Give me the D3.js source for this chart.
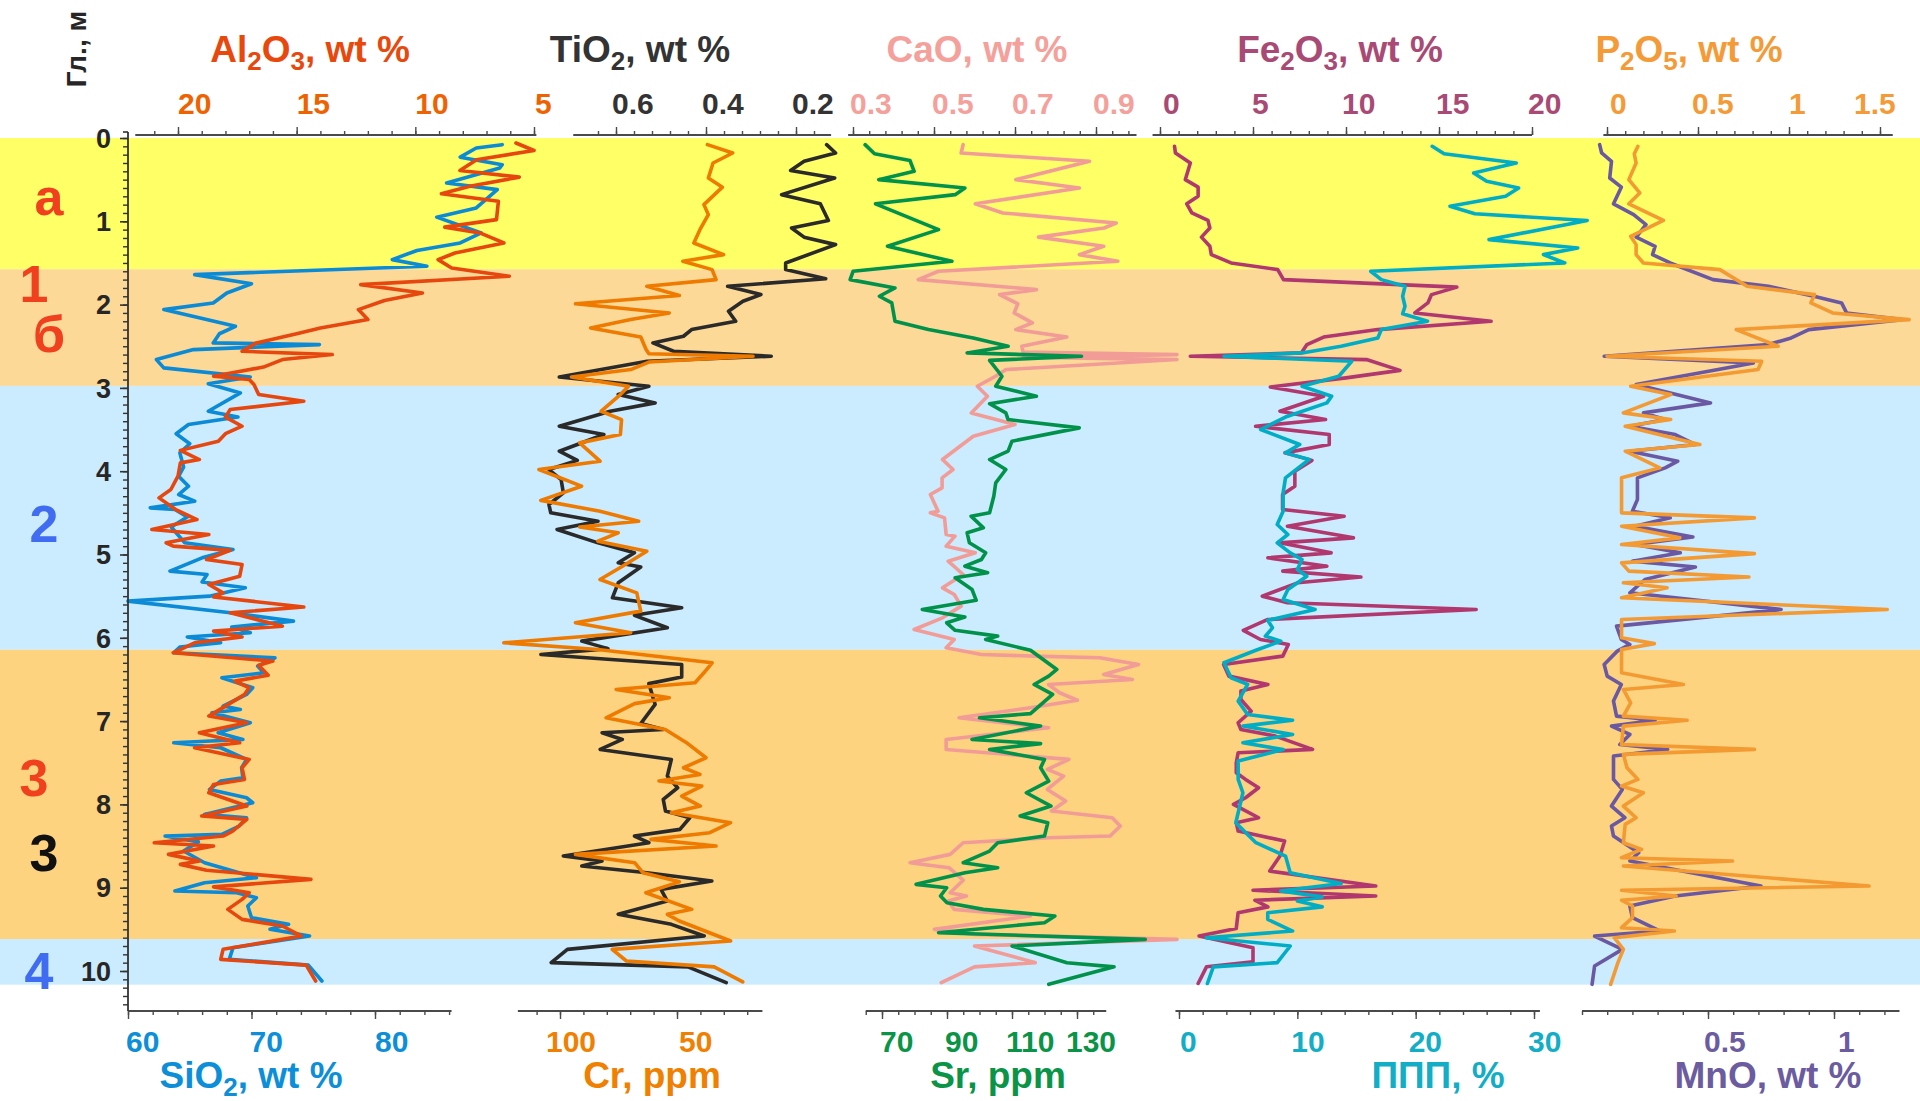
<!DOCTYPE html>
<html>
<head>
<meta charset="utf-8">
<script src="https://cdn.jsdelivr.net/npm/d3@7"></script>
<style>
  body { margin: 0; background: #fff; }
  svg { display: block; font-family: "Liberation Sans", Arial, sans-serif; font-weight: bold; }
</style>
</head>
<body>
<svg id="chart" width="1920" height="1101"></svg>
<script>
// ---- Section zones (depth, m) ----
const zoneBounds = [0, 1.576, 2.976, 6.144, 9.616, 10.164];
const zoneNames = ["а", "б", "2", "3", "4"];

// ---- Layer marks on the left ----
const layerText = ["а", "1", "б", "2", "3", "3", "4"];
const layerDepth = [0.70, 1.75, 2.34, 4.63, 7.68, 8.58, 9.99];

// ---- Depth ticks ----
const depthLabels = [0, 1, 2, 3, 4, 5, 6, 7, 8, 9, 10];

// ---- Series: [depth m, value] ----
const sio2 = [[0.08,90.3],[0.12,88.2],[0.23,86.9],[0.32,90.3],[0.36,90.1],[0.54,85.8],[0.62,89.9],[0.84,88.2],[0.95,85.0],[1.14,88.6],[1.26,86.9],[1.35,83.4],[1.46,81.4],[1.54,84.2],[1.64,65.4],[1.75,70.0],[1.86,68.0],[1.98,66.9],[2.06,62.9],[2.26,68.7],[2.35,67.4],[2.46,66.9],[2.48,75.5],[2.54,65.3],[2.66,62.3],[2.76,62.9],[2.87,69.9],[2.95,66.5],[3.06,69.1],[3.28,66.5],[3.35,68.9],[3.44,64.9],[3.55,63.9],[3.67,65.0],[3.78,64.2],[3.95,64.5],[4.06,64.1],[4.18,64.9],[4.28,64.1],[4.36,65.4],[4.44,61.8],[4.46,63.8],[4.55,64.8],[4.67,63.5],[4.86,64.6],[4.94,68.5],[5.04,66.0],[5.2,63.4],[5.24,66.4],[5.33,66.0],[5.4,69.5],[5.5,66.6],[5.56,60.0],[5.7,68.3],[5.8,73.4],[5.87,68.4],[5.94,69.9],[5.99,64.8],[6.06,67.5],[6.11,64.2],[6.18,63.7],[6.24,71.9],[6.34,70.5],[6.42,71.0],[6.48,67.6],[6.6,70.1],[6.68,69.6],[6.82,67.7],[6.86,69.1],[6.9,66.8],[7.02,69.9],[7.14,67.3],[7.22,69.3],[7.26,63.7],[7.32,67.5],[7.46,69.6],[7.56,69.2],[7.68,69.3],[7.72,67.5],[7.82,66.6],[7.92,69.6],[7.98,70.1],[8.12,66.2],[8.16,69.6],[8.26,69.0],[8.36,67.6],[8.38,63.0],[8.45,65.7],[8.56,64.5],[8.7,66.2],[8.88,70.4],[8.94,66.2],[9.04,63.8],[9.06,68.8],[9.12,70.4],[9.22,69.7],[9.36,70.0],[9.44,73.0],[9.5,71.5],[9.58,74.7],[9.72,68.5],[9.86,68.2],[9.93,74.6],[10.12,75.7]];

const al2o3 = [[0.06,5.76],[0.15,5.0],[0.26,7.42],[0.39,8.12],[0.47,5.62],[0.58,7.7],[0.67,8.9],[0.76,6.5],[0.98,6.58],[1.07,8.76],[1.14,7.28],[1.26,6.27],[1.38,8.33],[1.46,9.04],[1.56,8.47],[1.66,6.04],[1.76,12.3],[1.86,9.7],[1.95,11.3],[2.06,12.4],[2.18,12.0],[2.28,14.0],[2.35,15.0],[2.46,16.7],[2.56,17.3],[2.6,13.5],[2.66,15.6],[2.75,16.4],[2.86,18.5],[2.9,17.0],[2.96,16.8],[3.08,16.6],[3.16,14.7],[3.26,17.8],[3.35,18.0],[3.46,17.3],[3.55,18.0],[3.64,18.3],[3.75,19.9],[3.86,19.1],[3.9,19.9],[4.06,20.0],[4.22,20.3],[4.32,20.8],[4.46,20.1],[4.58,19.2],[4.7,21.1],[4.76,18.7],[4.86,20.5],[4.9,20.2],[4.95,17.8],[5.06,18.8],[5.12,17.3],[5.26,17.4],[5.36,18.7],[5.46,18.1],[5.51,18.5],[5.63,14.7],[5.7,17.8],[5.86,15.6],[5.92,18.5],[5.99,17.3],[6.06,19.3],[6.18,20.2],[6.28,16.0],[6.33,16.6],[6.45,16.2],[6.52,17.6],[6.6,17.0],[6.68,17.2],[6.82,18.0],[6.94,18.7],[7.02,17.1],[7.14,19.1],[7.26,17.4],[7.32,19.3],[7.46,17.0],[7.56,17.3],[7.7,17.2],[7.76,18.5],[7.86,18.7],[8.02,17.1],[8.14,19.0],[8.18,17.1],[8.32,17.7],[8.38,18.1],[8.46,21.0],[8.5,18.5],[8.6,20.4],[8.68,19.1],[8.72,19.9],[8.79,18.8],[8.9,14.4],[8.99,18.5],[9.06,17.0],[9.14,17.3],[9.26,17.9],[9.38,17.3],[9.46,15.6],[9.58,14.8],[9.74,18.1],[9.86,18.2],[9.93,14.6],[10.12,14.2]];

const tio2 = [[0.08,0.132],[0.18,0.112],[0.28,0.182],[0.39,0.212],[0.48,0.114],[0.68,0.232],[0.79,0.146],[0.99,0.128],[1.08,0.21],[1.19,0.182],[1.28,0.112],[1.5,0.223],[1.58,0.223],[1.69,0.134],[1.78,0.352],[1.88,0.278],[1.96,0.318],[2.08,0.35],[2.2,0.334],[2.3,0.432],[2.38,0.45],[2.46,0.518],[2.56,0.472],[2.62,0.255],[2.68,0.531],[2.87,0.726],[2.98,0.527],[3.08,0.595],[3.18,0.513],[3.28,0.613],[3.46,0.726],[3.56,0.627],[3.68,0.686],[3.76,0.726],[3.87,0.686],[3.98,0.749],[4.1,0.722],[4.26,0.717],[4.4,0.749],[4.5,0.745],[4.6,0.64],[4.7,0.731],[4.86,0.64],[4.98,0.559],[5.1,0.595],[5.15,0.545],[5.34,0.595],[5.52,0.608],[5.64,0.454],[5.73,0.559],[5.88,0.486],[6.04,0.676],[6.13,0.618],[6.2,0.767],[6.32,0.454],[6.47,0.454],[6.55,0.527],[6.8,0.513],[7.03,0.545],[7.1,0.495],[7.14,0.631],[7.22,0.586],[7.34,0.635],[7.46,0.477],[7.66,0.486],[7.8,0.463],[7.94,0.495],[8.08,0.49],[8.16,0.436],[8.3,0.458],[8.38,0.559],[8.46,0.527],[8.62,0.717],[8.68,0.631],[8.74,0.676],[8.82,0.531],[8.92,0.387],[9.02,0.5],[9.16,0.486],[9.32,0.595],[9.44,0.477],[9.58,0.404],[9.74,0.708],[9.9,0.744],[9.95,0.44],[10.14,0.355]];

const cr = [[0.08,37],[0.18,26.2],[0.3,34.6],[0.48,36.6],[0.59,30.6],[0.8,38.5],[0.92,36.6],[1.1,40.2],[1.26,42.8],[1.4,30.1],[1.48,47.5],[1.58,35],[1.7,33.3],[1.78,62.9],[1.89,49],[1.99,93.4],[2.1,53.3],[2.18,69.8],[2.28,86.9],[2.39,65.5],[2.54,63.2],[2.59,62],[2.62,17.5],[2.69,62],[2.78,69.8],[2.87,95.1],[2.98,70.7],[3.08,74.2],[3.28,82.4],[3.38,73.7],[3.56,74.2],[3.66,91.6],[3.88,82.9],[3.98,109],[4.18,90.8],[4.35,108.2],[4.48,82.9],[4.6,66.4],[4.67,91.6],[4.74,75.1],[4.84,83.8],[4.96,62.9],[5.14,73.3],[5.3,82.9],[5.46,67.2],[5.68,65.5],[5.82,93.4],[5.94,69.8],[6.06,124],[6.14,83.8],[6.3,35],[6.42,38.5],[6.54,42.3],[6.62,76],[6.72,53.3],[6.79,68.1],[6.96,80.3],[7.1,55],[7.27,45.4],[7.44,37.6],[7.56,47.2],[7.64,40.2],[7.72,57.7],[7.78,39.4],[7.9,48],[8.02,40],[8.1,52.4],[8.22,27.1],[8.34,36],[8.42,61.1],[8.5,33.3],[8.6,93.4],[8.7,68.1],[8.82,64.6],[8.93,49],[9.06,63.3],[9.26,43.7],[9.32,54.1],[9.4,49],[9.64,27.1],[9.74,77.7],[9.88,71.6],[9.95,34.1],[10.13,21.9]];

const cao = [[0.08,0.572],[0.18,0.567],[0.28,0.884],[0.5,0.702],[0.6,0.859],[0.79,0.602],[0.9,0.67],[1.02,0.95],[1.08,0.92],[1.19,0.758],[1.3,0.919],[1.4,0.859],[1.48,0.954],[1.6,0.511],[1.7,0.461],[1.82,0.753],[1.88,0.662],[1.99,0.707],[2.1,0.698],[2.22,0.743],[2.3,0.702],[2.39,0.828],[2.5,0.717],[2.57,0.72],[2.6,1.1],[2.63,0.72],[2.66,1.1],[2.78,0.678],[2.86,0.652],[2.98,0.607],[3.1,0.632],[3.3,0.592],[3.44,0.70],[3.58,0.597],[3.86,0.521],[3.98,0.547],[4.08,0.52],[4.2,0.52],[4.28,0.491],[4.48,0.51],[4.5,0.491],[4.56,0.526],[4.76,0.53],[4.78,0.552],[4.9,0.53],[4.98,0.602],[5.08,0.535],[5.24,0.572],[5.4,0.521],[5.48,0.55],[5.62,0.567],[5.76,0.521],[5.9,0.451],[6.02,0.55],[6.12,0.53],[6.2,0.617],[6.22,0.748],[6.24,0.909],[6.32,1.005],[6.44,0.919],[6.5,0.99],[6.56,0.783],[6.66,0.81],[6.75,0.854],[6.84,0.738],[6.96,0.562],[7.08,0.783],[7.22,0.53],[7.34,0.53],[7.46,0.833],[7.58,0.78],[7.66,0.82],[7.82,0.78],[7.96,0.825],[8.08,0.79],[8.16,0.94],[8.26,0.96],[8.38,0.935],[8.4,0.783],[8.46,0.572],[8.6,0.54],[8.7,0.441],[8.76,0.537],[8.91,0.572],[9.06,0.54],[9.1,0.58],[9.16,0.535],[9.26,0.55],[9.34,0.738],[9.5,0.501],[9.56,0.6],[9.62,1.1],[9.7,0.6],[9.9,0.75],[9.95,0.6],[10.14,0.518]];

const sr = [[0.08,64.8],[0.19,67.7],[0.27,78.6],[0.4,79.9],[0.5,69],[0.6,95.5],[0.68,92.5],[0.79,68],[1.1,87.4],[1.3,71.7],[1.48,91.5],[1.6,61.1],[1.7,60.2],[1.8,74],[1.9,69.2],[1.98,73],[2.2,74],[2.3,84.3],[2.4,98.1],[2.5,108.8],[2.58,96.2],[2.62,131.4],[2.67,103.1],[2.86,106.9],[2.98,105],[3.1,117.5],[3.19,103.1],[3.3,108.1],[3.38,108.8],[3.48,130.7],[3.64,110],[3.76,108.8],[3.86,103.1],[3.98,108.1],[4.14,105],[4.3,104.4],[4.5,103.1],[4.54,97.4],[4.68,101.2],[4.74,96.2],[4.86,96.9],[4.98,101.9],[5.06,100.6],[5.14,95.5],[5.22,102.5],[5.28,92.5],[5.42,97.7],[5.55,99],[5.66,82.4],[5.75,95.5],[5.82,89.9],[5.91,92.5],[5.98,105.6],[6.02,101.9],[6.15,115.7],[6.38,123.8],[6.46,121.3],[6.56,116.8],[6.68,122.5],[6.91,115.7],[6.96,100],[7.06,118.8],[7.22,97.7],[7.27,118.8],[7.34,103.1],[7.46,120],[7.56,118.8],[7.72,121.3],[7.86,114.4],[8.02,122],[8.14,112.5],[8.22,121],[8.38,120],[8.46,105.6],[8.56,103.1],[8.7,95],[8.76,105.6],[8.82,95.5],[8.96,80.5],[9.0,89.9],[9.1,88],[9.18,90],[9.26,101.2],[9.34,123.2],[9.42,120],[9.54,87.4],[9.62,151],[9.7,110],[9.9,126.9],[9.95,141.4],[10.16,121.3]];

const fe2o3 = [[0.1,0.78],[0.18,0.83],[0.3,1.63],[0.5,1.36],[0.59,2.05],[0.7,2.05],[0.79,1.44],[0.9,1.71],[0.99,2.58],[1.08,2.68],[1.19,2.23],[1.3,2.68],[1.4,2.76],[1.5,3.82],[1.58,6.33],[1.7,6.64],[1.79,15.96],[1.88,14.6],[1.98,14.4],[2.1,13.7],[2.2,17.8],[2.3,11.7],[2.39,8.8],[2.48,7.9],[2.58,7.6],[2.62,1.63],[2.66,11.1],[2.79,12.9],[2.88,10],[2.99,5.93],[3.1,8.8],[3.28,6.45],[3.38,8.9],[3.46,5.14],[3.56,9.1],[3.68,9.1],[3.78,6.72],[3.87,8.17],[4.0,7.25],[4.18,7.25],[4.28,6.59],[4.46,6.59],[4.54,9.9],[4.66,6.85],[4.8,10.4],[4.86,6.45],[4.98,9.2],[5.04,5.8],[5.14,8.97],[5.2,6.6],[5.27,10.8],[5.34,7.4],[5.5,5.5],[5.58,6.85],[5.66,17],[5.78,5.8],[5.91,4.48],[6.02,5.4],[6.08,6.9],[6.22,6.6],[6.32,3.42],[6.46,3.7],[6.56,5.8],[6.64,4.35],[6.74,4.35],[6.88,4.9],[7.02,4.2],[7.1,4.35],[7.18,6.2],[7.34,8.2],[7.38,4.2],[7.5,4.1],[7.62,4.1],[7.7,4.6],[7.8,5.3],[7.92,4.6],[8.0,3.95],[8.16,5.3],[8.22,4.1],[8.32,4.2],[8.44,6.7],[8.62,6.45],[8.8,5.9],[8.98,11.6],[9.03,5.0],[9.1,11.6],[9.15,5.1],[9.23,5.8],[9.3,4.2],[9.49,4.1],[9.58,2.1],[9.72,5.0],[9.89,5.0],[9.95,2.5],[10.15,2.05]];

const loi = [[0.1,21.4],[0.19,22.4],[0.3,28.5],[0.42,24.9],[0.52,26],[0.6,28.7],[0.7,27.6],[0.82,22.9],[0.91,25],[0.99,34.5],[1.22,26.2],[1.32,33.7],[1.4,30.8],[1.5,32.6],[1.6,16.2],[1.7,17.1],[1.78,19.1],[1.9,18.9],[2.02,19.1],[2.11,18.9],[2.2,21],[2.3,17.1],[2.4,16.8],[2.5,13.7],[2.58,10.4],[2.62,3.8],[2.68,14.6],[2.86,13.5],[2.98,10.4],[3.1,12.9],[3.18,12.5],[3.35,9],[3.5,6.9],[3.68,10.2],[3.78,9],[3.86,11],[4.08,9],[4.26,8.8],[4.48,8.8],[4.64,8.3],[4.76,9.2],[4.86,8.3],[4.98,9.4],[5.06,10.4],[5.18,10],[5.26,10.8],[5.42,9.2],[5.54,8.8],[5.66,11.5],[5.79,7.5],[5.88,7.9],[5.98,7.3],[6.04,8.6],[6.15,6.5],[6.3,3.8],[6.48,4.4],[6.56,5.8],[6.76,5],[6.92,5.8],[6.99,9.6],[7.06,5.4],[7.16,9.6],[7.26,5.4],[7.34,8.8],[7.48,5],[7.7,5],[7.86,5.4],[8.22,4.8],[8.46,6.5],[8.62,9],[8.82,9.4],[8.95,13.7],[9.04,8.6],[9.11,12.1],[9.16,10],[9.23,12.1],[9.3,7.5],[9.38,7.5],[9.52,9.6],[9.6,2.3],[9.7,9.4],[9.9,8.3],[9.95,2.9],[10.15,2.4]];

const p2o5 = [[0.1,0.17],[0.19,0.15],[0.3,0.16],[0.5,0.12],[0.66,0.18],[0.79,0.12],[0.99,0.31],[1.18,0.13],[1.28,0.16],[1.4,0.16],[1.5,0.2],[1.58,0.62],[1.78,0.77],[1.88,1.14],[1.98,1.12],[2.1,1.24],[2.18,1.66],[2.3,0.71],[2.5,0.94],[2.62,0.0],[2.68,0.85],[2.78,0.83],[2.98,0.13],[3.08,0.35],[3.3,0.09],[3.38,0.35],[3.46,0.1],[3.68,0.51],[3.76,0.1],[3.96,0.29],[4.08,0.08],[4.5,0.08],[4.56,0.81],[4.66,0.08],[4.8,0.4],[4.88,0.08],[4.99,0.81],[5.1,0.08],[5.2,0.12],[5.27,0.78],[5.34,0.09],[5.4,0.33],[5.52,0.08],[5.66,1.54],[5.78,0.08],[6.0,0.08],[6.07,0.26],[6.14,0.08],[6.42,0.08],[6.56,0.42],[6.62,0.09],[6.78,0.13],[6.94,0.09],[6.99,0.44],[7.06,0.09],[7.28,0.08],[7.34,0.81],[7.4,0.09],[7.56,0.11],[7.7,0.17],[7.78,0.08],[7.86,0.2],[8.02,0.09],[8.16,0.16],[8.24,0.1],[8.46,0.09],[8.54,0.19],[8.64,0.08],[8.68,0.69],[8.74,0.09],[8.98,1.44],[9.03,0.08],[9.1,0.38],[9.15,0.08],[9.22,0.14],[9.36,0.14],[9.48,0.08],[9.52,0.37],[9.6,0.04],[9.74,0.09],[9.9,0.06],[10.16,0.02]];

const mno = [[0.08,0.07],[0.18,0.078],[0.28,0.117],[0.48,0.11],[0.59,0.156],[0.79,0.125],[0.92,0.205],[1.04,0.254],[1.19,0.215],[1.3,0.29],[1.4,0.28],[1.5,0.35],[1.7,0.52],[1.78,0.74],[1.9,0.92],[1.98,1.03],[2.1,1.05],[2.18,1.27],[2.3,0.9],[2.4,0.83],[2.48,0.74],[2.62,0.088],[2.7,0.68],[2.78,0.54],[2.96,0.215],[3.18,0.51],[3.3,0.244],[3.38,0.33],[3.46,0.19],[3.56,0.37],[3.68,0.45],[3.76,0.19],[3.88,0.38],[3.96,0.33],[4.08,0.22],[4.34,0.22],[4.48,0.2],[4.56,0.35],[4.66,0.21],[4.79,0.44],[4.88,0.21],[4.98,0.39],[5.08,0.2],[5.15,0.45],[5.3,0.25],[5.46,0.19],[5.66,0.79],[5.86,0.137],[6.02,0.156],[6.08,0.19],[6.16,0.14],[6.32,0.088],[6.46,0.1],[6.56,0.156],[6.76,0.125],[6.94,0.137],[6.99,0.29],[7.06,0.117],[7.16,0.19],[7.28,0.15],[7.34,0.34],[7.42,0.125],[7.7,0.125],[7.82,0.16],[8.02,0.117],[8.16,0.17],[8.26,0.117],[8.38,0.125],[8.58,0.225],[8.68,0.19],[8.98,0.71],[9.1,0.37],[9.22,0.19],[9.36,0.2],[9.52,0.31],[9.58,0.05],[9.74,0.16],[9.94,0.05],[10.16,0.04]];

// ---- Axis tick labels ----
const al2o3Ticks = [20, 15, 10, 5];
const tio2Ticks = [0.6, 0.4, 0.2];
const caoTicks = [0.3, 0.5, 0.7, 0.9];
const fe2o3Ticks = [0, 5, 10, 15, 20];
const p2o5Ticks = [0, 0.5, 1, 1.5];
const sio2Ticks = [60, 70, 80];
const crTicks = [100, 50];
const srTicks = [70, 90, 110, 130];
const loiTicks = [0, 10, 20, 30];
const mnoTicks = [0.5, 1];

// ---------------------------------------------------------------
const svg = d3.select("#chart");
const AXIS_TOP = 135, AXIS_BOTTOM = 1011, DEPTH_X = 128;
const y = d3.scaleLinear().domain([0, 10]).range([138, 971]);

const zoneColors = ["#FFFF66", "#FCD997", "#CBEBFE", "#FDD37F", "#CBEBFE"];
svg.append("g").selectAll("rect").data(zoneNames).join("rect")
  .attr("x", 0).attr("width", 1920)
  .attr("y", (d, i) => y(zoneBounds[i]))
  .attr("height", (d, i) => y(zoneBounds[i + 1]) - y(zoneBounds[i]))
  .attr("fill", (d, i) => zoneColors[i]);

// x scales, one per component
const sx = {
  sio2:  d3.scaleLinear().domain([60, 80]).range([128, 375]),
  al2o3: d3.scaleLinear().domain([20, 5]).range([178, 534]),
  tio2:  d3.scaleLinear().domain([0.6, 0.2]).range([616, 796]),
  cr:    d3.scaleLinear().domain([100, 50]).range([560, 677]),
  cao:   d3.scaleLinear().domain([0.3, 0.9]).range([853, 1096]),
  sr:    d3.scaleLinear().domain([70, 130]).range([882, 1077]),
  fe2o3: d3.scaleLinear().domain([0, 20]).range([1160, 1532]),
  loi:   d3.scaleLinear().domain([0, 30]).range([1179, 1534]),
  p2o5:  d3.scaleLinear().domain([0, 1.5]).range([1607, 1880]),
  mno:   d3.scaleLinear().domain([0, 1]).range([1582, 1834])
};

const series = [
  { key: "sio2",  data: sio2,  color: "#0B8AD6" },
  { key: "al2o3", data: al2o3, color: "#E5470E" },
  { key: "tio2",  data: tio2,  color: "#2A2A2A" },
  { key: "cr",    data: cr,    color: "#EE7A00" },
  { key: "cao",   data: cao,   color: "#F29C97" },
  { key: "sr",    data: sr,    color: "#00924A" },
  { key: "fe2o3", data: fe2o3, color: "#B0386E" },
  { key: "loi",   data: loi,   color: "#00ADC4" },
  { key: "mno",   data: mno,   color: "#6A58A2" },
  { key: "p2o5",  data: p2o5,  color: "#F39A33" }
];

const gLines = svg.append("g");
series.forEach(s => {
  const line = d3.line().x(d => sx[s.key](d[1])).y(d => y(d[0]));
  gLines.append("path").datum(s.data)
    .attr("d", line)
    .attr("fill", "none")
    .attr("stroke", s.color)
    .attr("stroke-width", 3.6)
    .attr("stroke-linejoin", "round")
    .attr("stroke-linecap", "round");
});

// horizontal value axes; nudge shifts individual tick labels sideways
function valueAxis(scale, side, lineFrom, lineTo, minorTicks, majorTicks, labelColor, nudge) {
  const yy = side === "top" ? AXIS_TOP : AXIS_BOTTOM;
  const g = svg.append("g").attr("transform", `translate(0,${yy})`);
  const mk = side === "top" ? d3.axisTop : d3.axisBottom;
  const minorAxis = mk(scale).tickValues(minorTicks).tickSize(4).tickFormat("");
  const majorAxis = mk(scale).tickValues(majorTicks).tickSize(8).tickFormat("");
  const gMin = g.append("g").call(minorAxis);
  const gMaj = g.append("g").call(majorAxis);
  [gMin, gMaj].forEach(a => {
    a.select(".domain").remove();
    a.selectAll(".tick line").attr("stroke", "#4a4a4a").attr("stroke-width", 1.4);
  });
  g.append("line")
    .attr("x1", scale(lineFrom)).attr("x2", scale(lineTo))
    .attr("stroke", "#4a4a4a").attr("stroke-width", 1.8);
  const nd = nudge || majorTicks.map(() => 0);
  g.append("g").selectAll("text").data(majorTicks).join("text")
    .attr("x", (d, i) => scale(d) - 4 + nd[i])
    .attr("y", side === "top" ? -21 : 41)
    .attr("fill", labelColor)
    .attr("font-size", 30)
    .attr("text-anchor", "start")
    .text(d => String(d));
}

function range(a, b, step) {
  const out = [];
  const n = Math.round((b - a) / step);
  for (let i = 0; i <= n; i++) out.push(+(a + i * step).toFixed(4));
  return out;
}

// top axes
valueAxis(sx.al2o3, "top", 21.8, 4.9, range(5, 21, 1), al2o3Ticks, "#EF6200", [4, 4, 4, 5]);
valueAxis(sx.tio2, "top", 0.695, 0.122, range(0.16, 0.64, 0.04), tio2Ticks, "#333333");
valueAxis(sx.cao, "top", 0.288, 1.0, range(0.3, 0.98, 0.04), caoTicks, "#F4A09B", [1, 2, 1, 1]);
valueAxis(sx.fe2o3, "top", -0.4, 20, range(0, 20, 1), fe2o3Ticks, "#A94A75", [7, 3, 0, 1, 0]);
valueAxis(sx.p2o5, "top", -0.02, 1.57, range(0, 1.5, 0.1), p2o5Ticks, "#F49A36", [7, -2, 4, -22]);

// bottom axes
valueAxis(sx.sio2, "bottom", 60, 86.2, range(60, 86, 2), sio2Ticks, "#0C8FD8", [2, 2, 4]);
valueAxis(sx.cr, "bottom", 118, 13.5, range(20, 110, 10), crTicks, "#F08000", [-10, 6]);
valueAxis(sx.sr, "bottom", 65, 139, range(65, 135, 5), srTicks, "#0A9447", [2, 2, -2, -7]);
valueAxis(sx.loi, "bottom", -0.3, 30.5, range(0, 30, 2), loiTicks, "#13AEC6", [5, -2, -3, -2]);
valueAxis(sx.mno, "bottom", 0, 1.26, range(0, 1.2, 0.1), mnoTicks, "#6B5B9F", [0, 8]);

// depth axis
const gDepth = svg.append("g").attr("transform", `translate(${DEPTH_X},0)`);
gDepth.append("g").call(d3.axisLeft(y).tickValues(range(0, 10.4, 0.1)).tickSize(5).tickFormat(""))
  .call(a => a.select(".domain").remove())
  .selectAll(".tick line").attr("stroke", "#333").attr("stroke-width", 1.4);
gDepth.append("g").call(d3.axisLeft(y).tickValues(depthLabels).tickSize(8).tickFormat(""))
  .call(a => a.select(".domain").remove())
  .selectAll(".tick line").attr("stroke", "#333").attr("stroke-width", 1.6);
gDepth.append("line").attr("y1", 132).attr("y2", AXIS_BOTTOM)
  .attr("stroke", "#333").attr("stroke-width", 1.8);
gDepth.append("line").attr("x1", -5).attr("x2", 0).attr("y1", 132).attr("y2", 132)
  .attr("stroke", "#333").attr("stroke-width", 1.6);
gDepth.append("g").selectAll("text").data(depthLabels).join("text")
  .attr("x", -17).attr("y", d => y(d))
  .attr("dy", "0.36em")
  .attr("text-anchor", "end")
  .attr("font-size", 27)
  .attr("fill", "#262626")
  .text(d => d);

svg.append("text")
  .attr("transform", "translate(86,49) rotate(-90)")
  .attr("text-anchor", "middle")
  .attr("font-size", 28)
  .attr("fill", "#262626")
  .text("Гл., м");

// layer marks
const layerColors = ["#F0401E", "#F0401E", "#F0401E", "#3F6CF0", "#F0401E", "#111111", "#3F6CF0"];
const layerX = [49, 34, 49, 44, 34, 44, 39];
svg.append("g").selectAll("text").data(layerText).join("text")
  .attr("x", (d, i) => layerX[i])
  .attr("y", (d, i) => y(layerDepth[i]))
  .attr("dy", "0.36em")
  .attr("text-anchor", "middle")
  .attr("font-size", 52)
  .attr("fill", (d, i) => layerColors[i])
  .text(d => d);

// titles with subscripts: "_" marks a subscript digit
function title(str, cx, baseY, color) {
  const t = svg.append("text")
    .attr("x", cx).attr("y", baseY)
    .attr("text-anchor", "middle")
    .attr("font-size", 37)
    .attr("fill", color);
  const parts = str.split(/(_\d)/).filter(p => p.length);
  let lowered = false;
  parts.forEach(p => {
    if (p[0] === "_") {
      t.append("tspan").attr("font-size", 26).attr("dy", 8).text(p.slice(1));
      lowered = true;
    } else {
      const ts = t.append("tspan").text(p);
      if (lowered) { ts.attr("dy", -8); lowered = false; }
    }
  });
}
title("Al_2O_3, wt %", 310, 62, "#E8480C");
title("TiO_2, wt %", 640, 62, "#333333");
title("CaO, wt %", 977, 62, "#F4A09B");
title("Fe_2O_3, wt %", 1340, 62, "#A94A75");
title("P_2O_5, wt %", 1689, 62, "#F49A36");
title("SiO_2, wt %", 251, 1088, "#0C8FD8");
title("Cr, ppm", 652, 1088, "#F08000");
title("Sr, ppm", 998, 1088, "#0A9447");
title("ППП, %", 1438, 1088, "#13AEC6");
title("MnO, wt %", 1768, 1088, "#6B5B9F");
</script>
</body>
</html>
